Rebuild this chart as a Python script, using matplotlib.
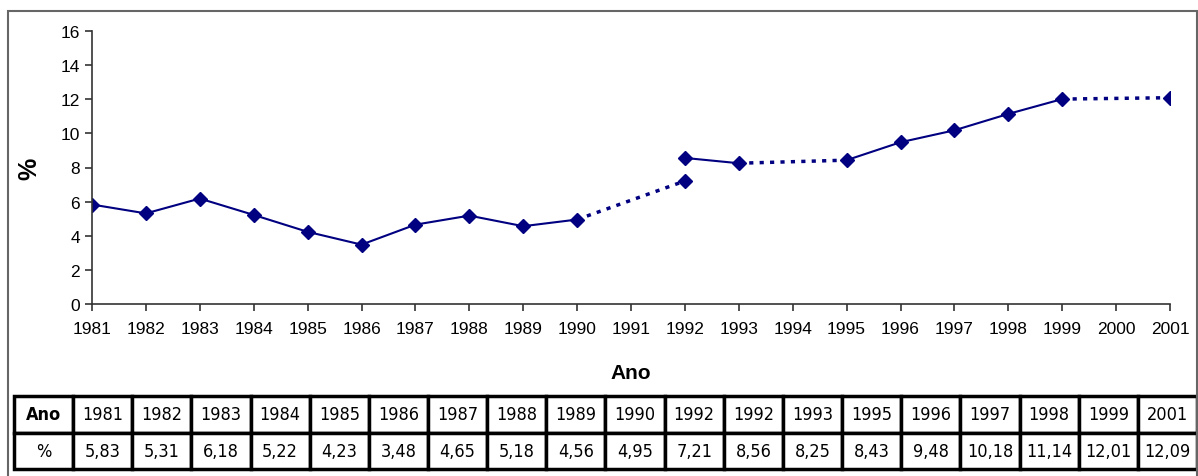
import matplotlib
matplotlib.use("Agg")
import matplotlib.pyplot as plt
from matplotlib.patches import Rectangle

# x axis categories (every year 1981-2001)
axis_years = [str(y) for y in range(1981, 2002)]

# measured values (1992 appears twice)
years = [1981, 1982, 1983, 1984, 1985, 1986, 1987, 1988, 1989, 1990,
         1992, 1992, 1993, 1995, 1996, 1997, 1998, 1999, 2001]
values = [5.83, 5.31, 6.18, 5.22, 4.23, 3.48, 4.65, 5.18, 4.56, 4.95,
          7.21, 8.56, 8.25, 8.43, 9.48, 10.18, 11.14, 12.01, 12.09]

navy = "#000080"
plt.rcParams['font.family'] = ['Liberation Sans', 'DejaVu Sans']

fig = plt.figure(figsize=(11.98, 4.77), dpi=100)

# outer grey frame
fig.patches.append(Rectangle((8 / 1198, -0.01), 1189 / 1198, 1 - 12 / 477 + 0.01,
                             transform=fig.transFigure, fill=False,
                             edgecolor="#666666", lw=1.5))

ax = fig.add_axes([92 / 1198, 1 - 305 / 477, 1078 / 1198, 273 / 477])

pos = [axis_years.index(str(y)) for y in years]

# segments: solid between consecutive years, dotted across gaps, none for repeated year
for i in range(len(years) - 1):
    gap = years[i + 1] - years[i]
    if gap == 0:
        continue
    if gap == 1:
        ax.plot(pos[i:i + 2], values[i:i + 2], color=navy, lw=1.5, ls="-")
    else:
        ax.plot(pos[i:i + 2], values[i:i + 2], color=navy, lw=2.5, ls=(0, (1.2, 1.8)))

ax.plot(pos, values, ls="none", marker="D", ms=7, color=navy)

ax.set_xlim(0, len(axis_years) - 1)
ax.set_ylim(0, 16)
ax.set_xticks(range(len(axis_years)))
ax.set_xticklabels(axis_years)
ax.set_yticks(range(0, 17, 2))
ax.tick_params(axis="both", labelsize=12.5, direction="out", length=5, width=1.2, color="#333333")
ax.tick_params(axis="x", pad=7)
for s in ["top", "right"]:
    ax.spines[s].set_visible(False)
for s in ["left", "bottom"]:
    ax.spines[s].set_color("#333333")
    ax.spines[s].set_linewidth(1.2)

ax.set_ylabel("%", fontsize=18, fontweight="bold", labelpad=14)
ax.set_xlabel("Ano", fontsize=15, fontweight="bold", labelpad=20)

# data table
tax = fig.add_axes([14 / 1198, 1 - 470 / 477, 1183 / 1198, 73 / 477])
tax.axis("off")
row_year = ["Ano"] + [str(y) for y in years]
row_val = ["%"] + [f"{v:.2f}".replace(".", ",") for v in values]
tbl = tax.table(cellText=[row_year, row_val], cellLoc="center", bbox=[0, 0, 1, 1])
tbl.auto_set_font_size(False)
for (r, c), cell in tbl.get_celld().items():
    cell.set_linewidth(2.5)
    cell.set_edgecolor("black")
    t = cell.get_text()
    t.set_fontsize(13)
    t.set_family("DejaVu Sans")
    t.set_fontstretch("condensed")
    if r == 0 and c == 0:
        t.set_fontweight("bold")

fig.savefig("out.png", dpi=100)
